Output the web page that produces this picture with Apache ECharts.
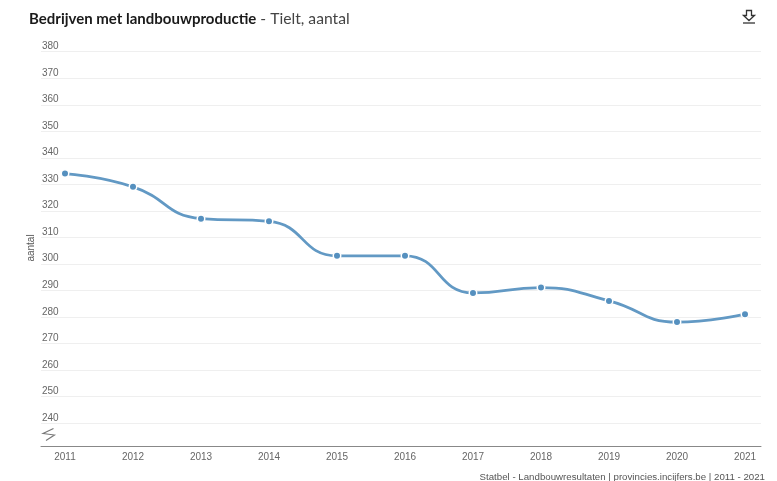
<!DOCTYPE html>
<html>
<head>
<meta charset="utf-8">
<style>html,body{margin:0;padding:0;background:#fff}#chart{width:777px;height:481px}</style>
<script src="https://cdn.jsdelivr.net/npm/echarts@6/dist/echarts.min.js"></script>
</head>
<body>
<div id="chart"></div>
<script>
// Farms with agricultural production in Tielt, yearly count
const years = [2011, 2012, 2013, 2014, 2015, 2016, 2017, 2018, 2019, 2020, 2021];
const counts = [334, 329, 317, 316, 303, 303, 289, 291, 286, 278, 281];
const yTicks = [240, 250, 260, 270, 280, 290, 300, 310, 320, 330, 340, 350, 360, 370, 380];
const titleBold = 'Bedrijven met landbouwproductie';
const titleRest = ' - Tielt, aantal';
const yName = 'aantal';
const sourceText = 'Statbel - Landbouwresultaten | provincies.incijfers.be | 2011 - 2021';

const chart = echarts.init(document.getElementById('chart'), null, { renderer: 'canvas' });
const tickFont = { fontFamily: '"Liberation Sans", Arial, sans-serif', fontSize: 10, color: '#666' };

chart.setOption({
  animation: false,
  backgroundColor: '#fff',
  grid: { left: 41, top: 51.5, width: 720, height: 394.5, containLabel: false },
  xAxis: {
    type: 'value',
    min: 2011 - 24 / 68,
    max: 2021 + 16 / 68,
    axisLine: { show: true, onZero: false, lineStyle: { color: '#888', width: 1 } },
    axisTick: { show: false },
    splitLine: { show: false },
    axisLabel: { ...tickFont, customValues: years, margin: 6, formatter: v => String(v) }
  },
  yAxis: {
    type: 'value',
    min: 231.3,
    max: 380,
    axisLine: { show: false },
    axisTick: { show: false },
    splitLine: { show: false },
    axisLabel: {
      ...tickFont,
      customValues: yTicks,
      inside: true,
      margin: 1,
      verticalAlign: 'bottom',
      formatter: v => String(v)
    }
  },
  series: [
    {
      // horizontal rules, one per labelled tick
      type: 'custom',
      silent: true,
      data: yTicks,
      encode: { y: 0 },
      renderItem: (params, api) => {
        const y = Math.round(api.coord([2011, api.value(0)])[1]) + 0.5;
        return {
          type: 'line',
          shape: { x1: params.coordSys.x, y1: y, x2: params.coordSys.x + params.coordSys.width, y2: y },
          style: { stroke: '#efefef', lineWidth: 1 }
        };
      }
    },
    {
      type: 'line',
      data: years.map((y, i) => [y, counts[i]]),
      smooth: 0.5,
      symbol: 'circle',
      symbolSize: 7.5,
      showAllSymbol: true,
      lineStyle: { color: '#6299c4', width: 2.8 },
      itemStyle: { color: '#5590bf', borderColor: '#fff', borderWidth: 1.5 },
      z: 5
    }
  ],
  graphic: [
    {
      type: 'text', x: 29, y: 11,
      style: {
        text: '{b|' + titleBold + '}{r|' + titleRest + '}',
        rich: {
          b: { fontFamily: 'Lato, sans-serif', fontSize: 15, fontWeight: 'bold', fill: '#1a1a1a' },
          r: { fontFamily: 'Lato, sans-serif', fontSize: 15.7, fill: '#444' }
        }
      }
    },
    {
      // download icon: outlined arrow over a base bar
      type: 'polygon', silent: true,
      shape: { points: [[746.5, 10.5], [751.5, 10.5], [751.5, 15.5], [754.5, 15.5], [749, 20.5], [743.5, 15.5], [746.5, 15.5]] },
      style: { fill: 'none', stroke: '#333', lineWidth: 1.3 }
    },
    {
      type: 'line', silent: true,
      shape: { x1: 743, y1: 23, x2: 755, y2: 23 },
      style: { stroke: '#333', lineWidth: 1.3 }
    },
    {
      type: 'text', x: 31.5, y: 248, rotation: Math.PI / 2,
      style: { text: yName, fontFamily: '"Liberation Sans", Arial, sans-serif', fontSize: 10, fill: '#555', align: 'center', verticalAlign: 'middle' }
    },
    {
      // axis break mark below the lowest tick
      type: 'polyline', silent: true,
      shape: { points: [[53.5, 428.5], [43, 433.5], [54.5, 435], [46, 440.5]] },
      style: { fill: 'none', stroke: '#777', lineWidth: 1.1 }
    },
    {
      type: 'text', x: 765, y: 472,
      style: { text: sourceText, fontFamily: '"Liberation Sans", Arial, sans-serif', fontSize: 9.7, fill: '#555', align: 'right' }
    }
  ]
});
</script>
</body>
</html>
